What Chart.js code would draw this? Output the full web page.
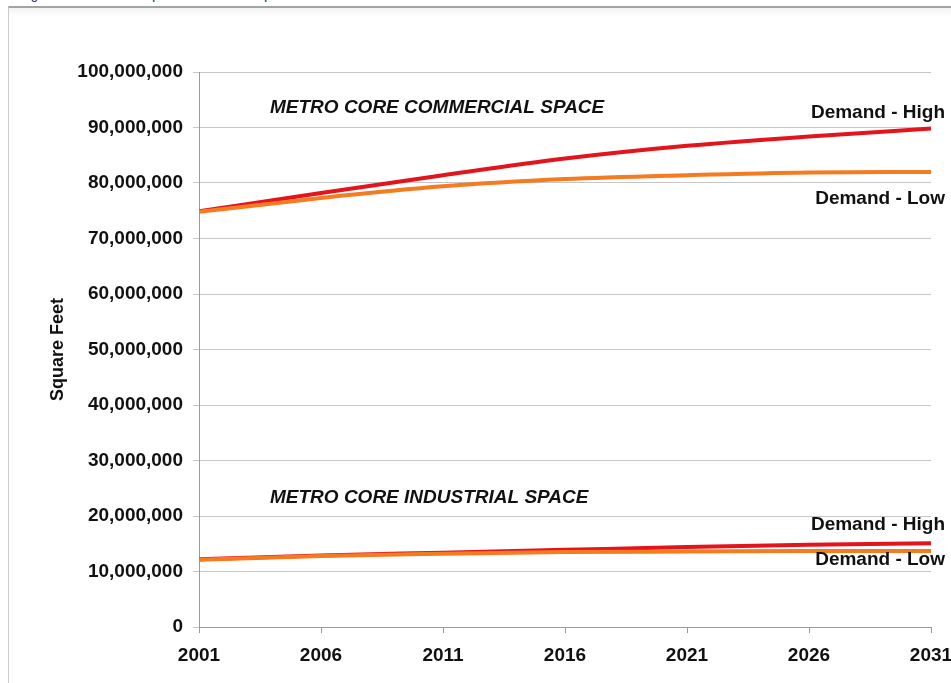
<!DOCTYPE html>
<html>
<head>
<meta charset="utf-8">
<script src="https://cdn.jsdelivr.net/npm/chart.js@4/dist/chart.umd.min.js"></script>
<style>
  body { margin: 0; background: #fff; width: 951px; height: 683px; overflow: hidden; position: relative; font-family: "Liberation Sans", Arial, sans-serif; }
  #caption { position: absolute; left: 20px; top: -12px; font-size: 13px; line-height: 13px; color: #222; white-space: nowrap; }
  #frame { position: absolute; left: 8px; top: 6px; right: 0; bottom: 0; border-top: 2px solid #a3a3a3; border-left: 1px solid #cacaca; background: linear-gradient(#f3f3f3, #fff 8px); }
  #wrap { position: absolute; left: 0; top: 0; width: 951px; height: 683px; }
</style>
</head>
<body>
<div id="caption">Figure 2: Metro Core Space Demand Comparison</div>
<div id="frame"></div>
<div id="wrap"><canvas id="spaceChart" width="951" height="683"></canvas></div>
<script>
var years = [2001, 2006, 2011, 2016, 2021, 2026, 2031];

// square feet, metro core
var commercialHigh = [74900000, 78200000, 81400000, 84400000, 86700000, 88400000, 89800000];
var commercialLow = [74800000, 77300000, 79400000, 80700000, 81400000, 81900000, 82000000];
var industrialHigh = [12200000, 12900000, 13400000, 13900000, 14400000, 14800000, 15100000];
var industrialLow = [12100000, 12800000, 13200000, 13500000, 13600000, 13700000, 13700000];

var yTicks = [0, 10000000, 20000000, 30000000, 40000000, 50000000, 60000000, 70000000, 80000000, 90000000, 100000000];

var RED = '#e3141c';
var ORANGE = '#f47b20';
var FONT = '"Liberation Sans", Arial, sans-serif';

function toPoints(values) {
  return values.map(function(v, i) {
    return {x: years[i], y: v};
  });
}

function lineSet(label, values, color) {
  return {
    label: label,
    data: toPoints(values),
    borderColor: color,
    backgroundColor: color,
    borderWidth: 4,
    pointRadius: 0,
    cubicInterpolationMode: 'monotone',
    fill: false,
  };
}

// captions for the two groups of lines
var textLabels = {
  id: 'textLabels',
  afterDatasetsDraw: function(chart) {
    let ctx = chart.ctx;
    let x = chart.scales.x;
    let y = chart.scales.y;
    let left = x.left;
    let right = x.right + 14;
    ctx.save();
    ctx.fillStyle = '#111';
    ctx.textBaseline = 'middle';

    ctx.font = 'italic bold 19px ' + FONT;
    ctx.textAlign = 'left';
    ctx.fillText('METRO CORE COMMERCIAL SPACE', left + 71, y.getPixelForValue(93500000));
    ctx.fillText('METRO CORE INDUSTRIAL SPACE', left + 71, y.getPixelForValue(23200000));

    ctx.font = 'bold 19px ' + FONT;
    ctx.textAlign = 'right';
    ctx.fillText('Demand - High', right, y.getPixelForValue(92600000));
    ctx.fillText('Demand - Low', right, y.getPixelForValue(77200000));
    ctx.fillText('Demand - High', right, y.getPixelForValue(18400000));
    ctx.fillText('Demand - Low', right, y.getPixelForValue(12100000));
    ctx.restore();
  }
};

let ctx = document.getElementById('spaceChart').getContext('2d');

new Chart(ctx, {
  type: 'line',
  data: {
    datasets: [
      lineSet('Commercial Demand - Low', commercialLow, ORANGE),
      lineSet('Industrial Demand - Low', industrialLow, ORANGE),
      lineSet('Commercial Demand - High', commercialHigh, RED),
      lineSet('Industrial Demand - High', industrialHigh, RED),
    ],
  },
  options: {
    responsive: false,
    animation: false,
    layout: {padding: {left: 0, top: 72, right: 20, bottom: 0}},
    plugins: {
      legend: {display: false},
      tooltip: {enabled: false},
    },
    scales: {
      x: {
        type: 'linear',
        min: years[0],
        max: years[years.length - 1],
        afterBuildTicks: function(scale) {
          scale.ticks = years.map(function(v) { return {value: v}; });
        },
        afterFit: function(scale) {
          scale.height = 56;
          scale.paddingLeft = 0;
          scale.paddingRight = 0;
        },
        ticks: {
          callback: function(v) { return String(v); },
          color: '#111',
          font: {family: FONT, size: 19, weight: 'bold'},
          padding: 11,
          maxRotation: 0,
        },
        grid: {drawOnChartArea: false, drawTicks: true, tickLength: 6, color: '#9a9a9a'},
        border: {color: '#9a9a9a', width: 1},
      },
      y: {
        min: 0,
        max: 100000000,
        afterBuildTicks: function(scale) {
          scale.ticks = yTicks.map(function(v) { return {value: v}; });
        },
        afterFit: function(scale) { scale.width = 199; },
        ticks: {
          callback: function(v) { return v.toLocaleString('en-US'); },
          color: '#111',
          font: {family: FONT, size: 19, weight: 'bold'},
          padding: 10,
        },
        grid: {color: '#c6c6c6', tickLength: 6, drawTicks: true},
        border: {color: '#9a9a9a', width: 1},
        title: {
          display: true,
          text: 'Square Feet',
          color: '#111',
          font: {family: FONT, size: 18, weight: 'bold'},
          padding: {top: 47, bottom: 0},
        },
      },
    },
  },
  plugins: [textLabels],
});
</script>
</body>
</html>
